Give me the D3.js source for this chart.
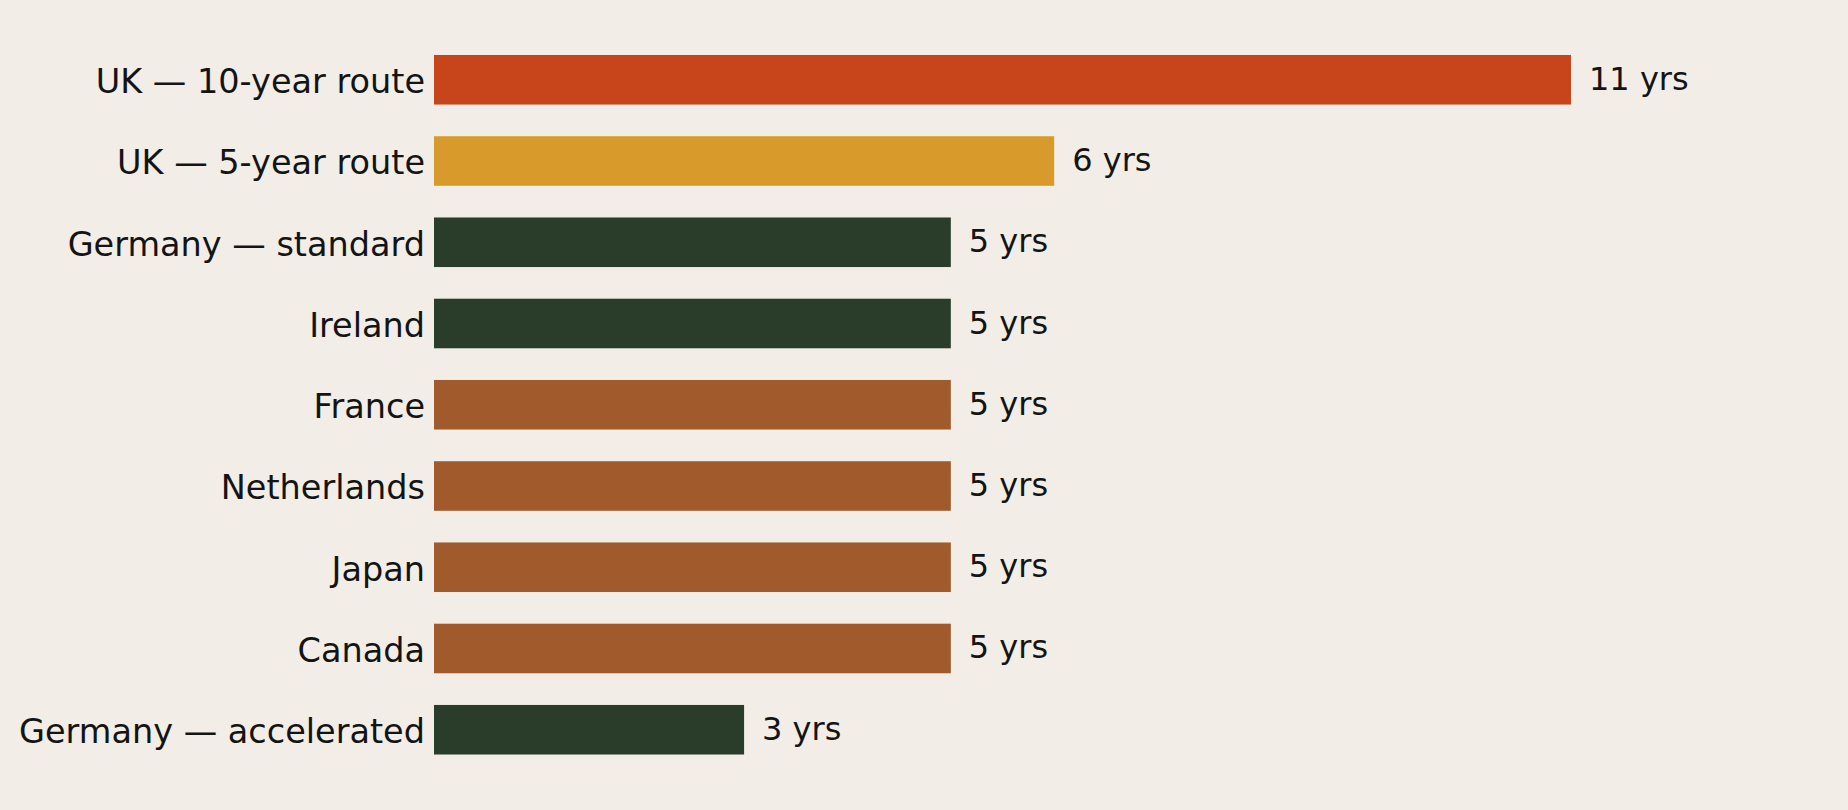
<!DOCTYPE html>
<html>
<head>
<meta charset="utf-8">
<script src="https://cdn.jsdelivr.net/npm/d3@7"></script>
<style>
  html, body { margin: 0; padding: 0; background: #F2EEE7; }
  svg { display: block; }
  text { font-family: "DejaVu Sans", sans-serif; fill: #141414; }
</style>
</head>
<body>
<svg id="chart" width="1848" height="810"></svg>
<script>
const categories = [
  "UK — 10-year route",
  "UK — 5-year route",
  "Germany — standard",
  "Ireland",
  "France",
  "Netherlands",
  "Japan",
  "Canada",
  "Germany — accelerated"
];
const years = [11, 6, 5, 5, 5, 5, 5, 5, 3];
const valueLabels = ["11 yrs", "6 yrs", "5 yrs", "5 yrs", "5 yrs", "5 yrs", "5 yrs", "5 yrs", "3 yrs"];
const groups = ["uk10", "uk5", "germany", "ireland", "other", "other", "other", "other", "germany"];
const groupColors = {
  uk10: "#C8441B",
  uk5: "#D99A2C",
  germany: "#2A3C2A",
  ireland: "#2A3C2A",
  other: "#A05A2C"
};

const data = categories.map((c, i) => ({ cat: c, v: years[i], label: valueLabels[i], g: groups[i] }));

const svg = d3.select("#chart");
const W = 1848, H = 810;

svg.append("rect").attr("width", W).attr("height", H).attr("fill", "#F2EEE7");

const x = d3.scaleLinear().domain([0, 11]).range([434, 1571]);
const y = d3.scaleBand().domain(categories).range([23.3, 786.2])
  .paddingInner(0.39).paddingOuter(0.39);

svg.append("g").selectAll("rect")
  .data(data).join("rect")
  .attr("x", x(0))
  .attr("y", d => y(d.cat))
  .attr("width", d => x(d.v) - x(0))
  .attr("height", y.bandwidth())
  .attr("fill", d => groupColors[d.g]);

// category labels
svg.append("g").selectAll("text")
  .data(data).join("text")
  .attr("x", x(0) - 9)
  .attr("y", d => y(d.cat) + y.bandwidth() / 2 + 13.3)
  .attr("text-anchor", "end")
  .attr("font-size", "33.5px")
  .text(d => d.cat);

// value labels
svg.append("g").selectAll("text")
  .data(data).join("text")
  .attr("x", d => x(d.v) + 18)
  .attr("y", d => y(d.cat) + y.bandwidth() / 2 + 10)
  .attr("text-anchor", "start")
  .attr("font-size", "32px")
  .text(d => d.label);
</script>
</body>
</html>
